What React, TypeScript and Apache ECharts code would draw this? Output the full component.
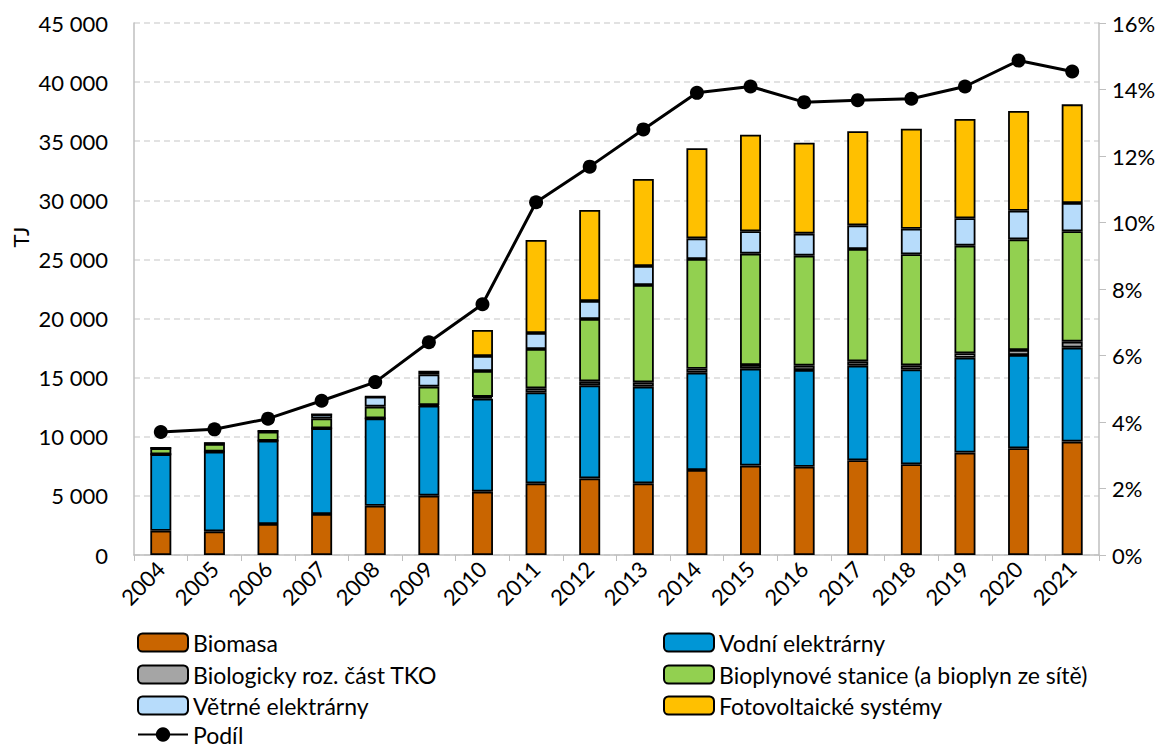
import React, { useEffect, useRef } from "react";
import * as echarts from "echarts";

const years = ["2004","2005","2006","2007","2008","2009","2010","2011","2012","2013","2014","2015","2016","2017","2018","2019","2020","2021"];
const biomasa = [2050,2000,2620,3470,4170,5020,5360,6060,6480,6060,7190,7560,7470,8010,7670,8660,9030,9590];
const vodni = [6470,6740,7050,7245,7390,7610,7865,7700,7870,8180,8230,8200,8180,8005,8035,8030,7890,7950];
const tko = [0,0,0,0,0,50,150,340,340,365,340,310,365,365,340,370,420,505];
const bioplyn = [505,650,760,845,990,1560,2190,3325,5270,8235,9280,9420,9305,9505,9390,9105,9360,9335];
const vitr = [40,80,60,340,840,1040,1265,1355,1525,1605,1745,1890,1860,2000,2165,2315,2425,2395];
const fve = [0,0,0,0,10,310,2200,7865,7695,7360,7615,8175,7700,7955,8460,8400,8435,8345];
const podil = [3.70,3.78,4.10,4.64,5.20,6.40,7.54,10.61,11.68,12.80,13.90,14.09,13.62,13.68,13.72,14.09,14.87,14.54];

const FONT = "Lato";

const fmt = (v: number) => String(v).replace(/\B(?=(\d{3})+(?!\d))/g, " ");

export default function App() {
  const ref = useRef<HTMLDivElement>(null);
  useEffect(() => {
    if (!ref.current) return;
    const chart = echarts.init(ref.current, null, { renderer: "svg" });
    const barSeries = [
      { name: "Biomasa", data: biomasa, color: "#C96500" },
      { name: "Vodní elektrárny", data: vodni, color: "#0096D6" },
      { name: "Biologicky roz. část TKO", data: tko, color: "#A5A5A5" },
      { name: "Bioplynové stanice (a bioplyn ze sítě)", data: bioplyn, color: "#92D050" },
      { name: "Větrné elektrárny", data: vitr, color: "#B7DCFB" },
      { name: "Fotovoltaické systémy", data: fve, color: "#FFC000" },
    ].map((s) => ({
      name: s.name,
      type: "bar",
      stack: "total",
      data: s.data,
      barWidth: 21,
      itemStyle: { color: s.color, borderColor: "#000", borderWidth: 1.8 },
    }));
    const legendText = { fontFamily: FONT, fontSize: 23, lineHeight: 22, color: "#000" };
    const mkLegend = (name: string, left: number, top: number) => ({
      data: [name],
      left,
      top,
      itemWidth: 50,
      itemHeight: 18,
      itemGap: 5,
      textStyle: legendText,
      selectedMode: false,
      padding: 0,
    });
    chart.setOption({
      animation: false,
      backgroundColor: "#fff",
      grid: { left: 134, right: 73, top: 23, height: 532 },
      legend: [
        mkLegend("Biomasa", 137, 631),
        mkLegend("Vodní elektrárny", 663, 631),
        mkLegend("Biologicky roz. část TKO", 137, 663),
        mkLegend("Bioplynové stanice (a bioplyn ze sítě)", 663, 663),
        mkLegend("Větrné elektrárny", 137, 694),
        mkLegend("Fotovoltaické systémy", 663, 694),
        mkLegend("Podíl", 137, 723),
      ],
      xAxis: {
        type: "category",
        data: years,
        axisLine: { lineStyle: { color: "#BFBFBF", width: 1.5 } },
        axisTick: { show: true, lineStyle: { color: "#BFBFBF" }, length: 6 },
        axisLabel: { rotate: 45, fontFamily: FONT, fontSize: 22, color: "#000", margin: 10 },
      },
      yAxis: [
        {
          type: "value",
          min: 0,
          max: 45000,
          interval: 5000,
          axisLine: { show: true, lineStyle: { color: "#BFBFBF", width: 1.5 } },
          axisTick: { show: false },
          axisLabel: { formatter: fmt, fontFamily: FONT, fontSize: 22, color: "#000", margin: 26 },
          splitLine: { show: true, lineStyle: { color: "#D9D9D9", type: [6, 4], width: 1.5 } },
        },
        {
          type: "value",
          min: 0,
          max: 16,
          interval: 2,
          position: "right",
          axisLine: { show: true, lineStyle: { color: "#BFBFBF", width: 1.5 } },
          axisTick: { show: true, length: 7, lineStyle: { color: "#BFBFBF" } },
          axisLabel: { formatter: (v: number) => v + "%", fontFamily: FONT, fontSize: 22, color: "#000", margin: 13 },
          splitLine: { show: false },
        },
      ],
      graphic: [
        {
          type: "text",
          x: 20,
          y: 237,
          rotation: Math.PI / 2,
          style: { text: "TJ", fontFamily: FONT, fontSize: 22, fill: "#000", align: "center", verticalAlign: "middle" },
        },
      ],
      series: [
        ...barSeries,
        {
          name: "Podíl",
          type: "line",
          yAxisIndex: 1,
          data: podil,
          symbol: "circle",
          symbolSize: 14,
          lineStyle: { color: "#000", width: 3 },
          itemStyle: { color: "#000" },
          z: 10,
        },
      ],
    });
    return () => chart.dispose();
  }, []);
  return <div ref={ref} style={{ position: "absolute", left: 0, top: 0, width: 1172, height: 751 }} />;
}
